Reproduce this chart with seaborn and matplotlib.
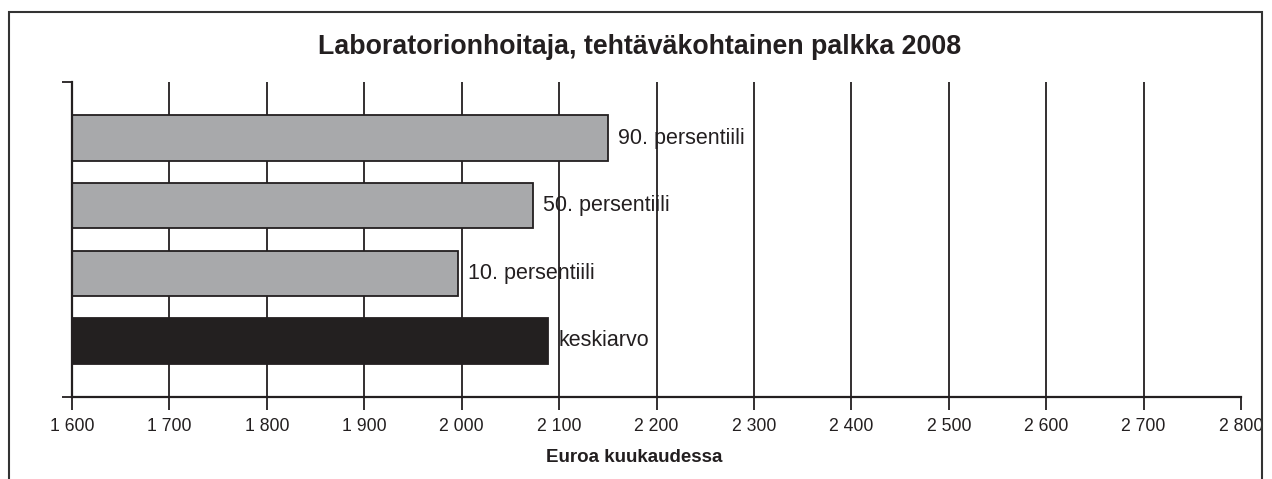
import matplotlib
matplotlib.use("Agg")
import matplotlib.pyplot as plt
import seaborn as sns
import pandas as pd
from matplotlib.patches import Rectangle

# data
categories = ["90. persentiili", "50. persentiili", "10. persentiili", "keskiarvo"]
values = [2150, 2073, 1996, 2089]
bar_colors = ["#a7a9ac", "#a7a9ac", "#a7a9ac", "#231f20"]
x_ticks = [1600, 1700, 1800, 1900, 2000, 2100, 2200, 2300, 2400, 2500, 2600, 2700, 2800]
x_tick_labels = ["1 600", "1 700", "1 800", "1 900", "2 000", "2 100", "2 200",
                 "2 300", "2 400", "2 500", "2 600", "2 700", "2 800"]

sns.set_style("white")
plt.rcParams["font.family"] = ["Liberation Sans", "DejaVu Sans"]

df = pd.DataFrame({"luokka": categories, "palkka": values})

fig = plt.figure(figsize=(12.72, 4.79), dpi=100)
ax = fig.add_axes([72 / 1272, 1 - 397 / 479, (1241 - 72) / 1272, (397 - 82) / 479])

# outer frame (bottom edge is cut off in the original)
fig.patches.append(Rectangle((9 / 1272, -0.05), (1262 - 9) / 1272, 1.05 - 12 / 479,
                             transform=fig.transFigure, fill=False,
                             edgecolor="#333333", linewidth=1.5))

# vertical gridlines (drawn over the labels, under the bars)
for v in x_ticks[1:-1]:
    ax.axvline(v, color="#231f20", linewidth=1.3, zorder=1.5)

sns.barplot(data=df, y="luokka", x="palkka", hue="luokka", palette=bar_colors,
            orient="h", width=0.67, edgecolor="#231f20", linewidth=1.3,
            legend=False, ax=ax, zorder=2)

for i, (lab, v) in enumerate(zip(categories, values)):
    ax.text(v + 10, i, lab, va="center", ha="left", fontsize=15.5, color="#231f20", zorder=1)

ax.set_xlim(1600, 2800)
ax.set_ylim(3.83, -0.83)
ax.set_xticks(x_ticks)
ax.set_xticklabels(x_tick_labels, fontsize=12.7, color="#231f20")
ax.set_yticks([-0.83, 3.83])
ax.set_yticklabels(["", ""])
ax.tick_params(axis="x", direction="out", length=9, width=1.3, color="#231f20", pad=6, bottom=True)
ax.tick_params(axis="y", direction="out", length=7, width=1.3, color="#231f20", left=True)
ax.set_ylabel("")
ax.set_xlabel("")

for s in ["top", "right"]:
    ax.spines[s].set_visible(False)
for s in ["left", "bottom"]:
    ax.spines[s].set_color("#231f20")
    ax.spines[s].set_linewidth(1.6)

fig.text(640 / 1272, 1 - 47 / 479, "Laboratorionhoitaja, tehtäväkohtainen palkka 2008",
         ha="center", va="center", fontsize=19.3, fontweight="bold", color="#231f20")
fig.text(634 / 1272, 1 - 457 / 479, "Euroa kuukaudessa",
         ha="center", va="center", fontsize=13.5, fontweight="bold", color="#231f20")

fig.savefig("out.png", dpi=100)
